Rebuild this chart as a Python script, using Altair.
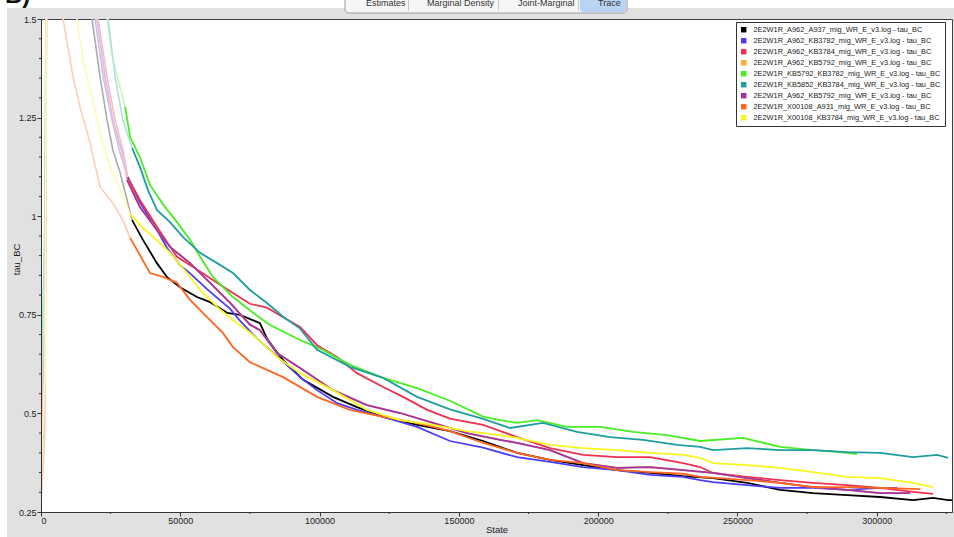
import altair as alt
import pandas as pd

# ---------------- data ----------------
NAMES = [
    "2E2W1R_A962_A937_mig_WR_E_v3.log - tau_BC",
    "2E2W1R_A962_KB3782_mig_WR_E_v3.log - tau_BC",
    "2E2W1R_A962_KB3784_mig_WR_E_v3.log - tau_BC",
    "2E2W1R_A962_KB5792_mig_WR_E_v3.log - tau_BC",
    "2E2W1R_KB5792_KB3782_mig_WR_E_v3.log - tau_BC",
    "2E2W1R_KB5852_KB3784_mig_WR_E_v3.log - tau_BC",
    "2E2W1R_A962_KB5792_mig_WR_E_v3.log - tau_BC\u200b",
    "2E2W1R_X00108_A931_mig_WR_E_v3.log - tau_BC",
    "2E2W1R_X00108_KB3784_mig_WR_E_v3.log - tau_BC",
]
COLORS = ["#000000", "#4d3df2", "#ef3150", "#ffa832", "#48ee24",
          "#1f9d9f", "#a232a6", "#ff6622", "#f6f620"]
# the same hues as drawn (washed out) for the burn-in part of each trace
PALE = ["#ababab", "#c4bffb", "#fabbc5", "#ffe2bb", "#c3f9b7",
        "#b5dfdf", "#e0bbe2", "#ffcdb6", "#fcfcb6"]

BLACK_S = [0, 1400, 2500, 18300, 21200, 23700, 25800, 28400, 30900, 32700,
           36600, 41600, 45200, 49900, 56000, 60700, 66800, 71400, 77500, 78600,
           81100, 83300, 86900, 94100, 104800, 113400, 122800, 135000, 146800, 158700,
           170900, 182700, 194600, 206800, 218600, 230500, 241200, 253500, 265300, 277100,
           289400, 301200, 313000, 320200, 325600, 327000]
BLACK_V = [0.35, 0.60, 2.50, 1.50, 1.353, 1.244, 1.168, 1.110, 1.041, 0.990,
           0.940, 0.881, 0.846, 0.820, 0.795, 0.782, 0.755, 0.750, 0.732, 0.729,
           0.690, 0.668, 0.635, 0.585, 0.542, 0.516, 0.491, 0.471, 0.455, 0.430,
           0.400, 0.382, 0.369, 0.356, 0.349, 0.341, 0.336, 0.324, 0.306, 0.298,
           0.293, 0.288, 0.280, 0.286, 0.280, 0.280]

BLUE_S = [0, 1400, 2500, 19400, 22300, 25500, 28400, 31200,
          35500, 41600, 45200, 49900, 53500, 59600, 67900, 71400, 77500, 82200,
          93000, 99100, 106300, 113400, 122800, 135000, 146800, 158700, 170900, 182700,
          194600, 206800, 218600, 230500, 236600, 241200, 253500, 265300, 277100, 289400,
          301200, 307300]
BLUE_V = [0.30, 0.55, 2.40, 1.50, 1.353, 1.244, 1.160, 1.099,
          1.035, 0.965, 0.920, 0.876, 0.855, 0.815, 0.765, 0.735, 0.690, 0.661,
          0.592, 0.559, 0.526, 0.509, 0.491, 0.466, 0.430, 0.413, 0.389, 0.377,
          0.364, 0.356, 0.344, 0.339, 0.331, 0.326, 0.318, 0.311, 0.311, 0.306,
          0.311, 0.311]

RED_S = [0, 1400, 2500, 20500, 23700, 26600, 29400, 31200,
         35500, 41600, 48800, 54600, 63200, 68900, 75000, 81100, 86900, 93000,
         99100, 106300, 113400, 122800, 130000, 138600, 146800, 158700, 170900, 182700,
         194600, 206800, 218600, 230500, 236600, 241200, 253500, 265300, 277100, 289400,
         301200, 313000, 320200]
RED_V = [0.45, 0.80, 2.60, 1.50, 1.353, 1.244, 1.168, 1.097,
         1.041, 0.973, 0.897, 0.871, 0.831, 0.805, 0.778, 0.768, 0.744, 0.719,
         0.673, 0.643, 0.602, 0.567, 0.542, 0.509, 0.487, 0.471, 0.440, 0.412,
         0.395, 0.389, 0.389, 0.374, 0.364, 0.349, 0.339, 0.331, 0.324, 0.318,
         0.311, 0.301, 0.296]

PURPLE_S = [0, 1400, 2500, 20100, 23000, 25800, 29100, 30900,
            35500, 41600, 46300, 53500, 60700, 67900, 72500, 75000, 78600, 84700,
            93000, 104800, 117000, 128900, 140700, 152900, 164800, 170900, 182700, 194600,
            206800, 218600, 230500, 241200, 253500, 265300, 277100, 289400, 301200, 312000]
PURPLE_V = [0.42, 0.70, 2.50, 1.50, 1.353, 1.244, 1.163, 1.092,
            1.023, 0.965, 0.922, 0.881, 0.831, 0.780, 0.744, 0.725, 0.711, 0.653,
            0.615, 0.559, 0.521, 0.501, 0.476, 0.450, 0.433, 0.425, 0.407, 0.374,
            0.362, 0.364, 0.356, 0.349, 0.336, 0.324, 0.313, 0.306, 0.298, 0.298]

GREEN_S = [0, 1400, 2500, 23700, 25800, 28400, 30200,
           32000, 35500, 39100, 43800, 48800, 53500, 57100, 61700, 68900, 76100,
           82200, 93000, 101200, 110900, 122800, 135000, 146800, 158700, 164800, 170900,
           178100, 188800, 200700, 212500, 224700, 236600, 252000, 265300, 277100, 286800,
           292900]
GREEN_V = [0.50, 0.90, 2.60, 1.50, 1.396, 1.328, 1.277,
           1.200, 1.150, 1.080, 1.030, 0.985, 0.940, 0.897, 0.846, 0.795, 0.755,
           0.724, 0.686, 0.661, 0.623, 0.590, 0.564, 0.532, 0.492, 0.483, 0.476,
           0.483, 0.466, 0.466, 0.453, 0.445, 0.430, 0.438, 0.415, 0.407, 0.402,
           0.397]

TEAL_S = [0, 1400, 2500, 24100, 26600, 29400, 32700,
          35500, 38400, 41600, 46300, 51000, 57100, 63200, 68900, 75000, 81100,
          86900, 93000, 99100, 110900, 122800, 135000, 146800, 158700, 168400, 180200,
          192400, 204300, 216100, 228300, 236600, 241200, 253500, 265300, 277100, 289400,
          301200, 313000, 321700, 325600]
TEAL_V = [0.55, 1.00, 2.60, 1.50, 1.353, 1.244, 1.173,
          1.125, 1.066, 1.016, 0.985, 0.947, 0.907, 0.881, 0.856, 0.813, 0.780,
          0.745, 0.715, 0.661, 0.618, 0.590, 0.542, 0.510, 0.486, 0.463, 0.476,
          0.453, 0.440, 0.433, 0.420, 0.415, 0.407, 0.412, 0.407, 0.407, 0.402,
          0.400, 0.389, 0.395, 0.387]

ORANGERED_S = [0, 1400, 2500, 7900, 11500, 14000, 17600, 21200, 25800, 29400,
               32000, 34500, 39100, 43800, 48800, 53500, 59600, 65300, 68900, 75000,
               86900, 99100, 110900, 122800, 135000, 146800, 158700, 170900, 182700, 194600,
               206800, 218600, 230500, 236600, 253500, 265300, 277100, 289400, 301200, 315600]
ORANGERED_V = [0.27, 0.45, 2.40, 1.50, 1.353, 1.277, 1.186, 1.074, 1.033, 0.990,
               0.945, 0.914, 0.856, 0.846, 0.831, 0.788, 0.744, 0.704, 0.668, 0.630,
               0.592, 0.542, 0.509, 0.491, 0.476, 0.455, 0.425, 0.400, 0.382, 0.374,
               0.356, 0.351, 0.347, 0.339, 0.331, 0.324, 0.313, 0.313, 0.311, 0.308]

YELLOW_S = [0, 1400, 2500, 12900, 15100, 18300, 21200, 24800, 28400, 32000,
            36600, 41600, 46300, 52400, 57100, 63200, 68900, 75000, 81100, 84700,
            93000, 104800, 117000, 128900, 140700, 152900, 164800, 170900, 182700, 194600,
            206800, 218600, 230500, 236600, 241200, 253500, 265300, 277100, 289400, 301200,
            313000, 320200]
YELLOW_V = [0.33, 0.60, 2.50, 1.50, 1.396, 1.302, 1.211, 1.125, 1.066, 1.005,
            0.970, 0.940, 0.907, 0.856, 0.813, 0.770, 0.737, 0.705, 0.668, 0.643,
            0.602, 0.559, 0.509, 0.483, 0.471, 0.455, 0.445, 0.438, 0.420, 0.412,
            0.407, 0.400, 0.395, 0.387, 0.374, 0.369, 0.362, 0.351, 0.339, 0.336,
            0.324, 0.313]

# the 4th and 7th entries are the same log file, so they carry the same trace
SERIES_STATES = [BLACK_S, BLUE_S, RED_S, PURPLE_S, GREEN_S, TEAL_S, PURPLE_S, ORANGERED_S, YELLOW_S]
SERIES_VALUES = [BLACK_V, BLUE_V, RED_V, PURPLE_V, GREEN_V, TEAL_V, PURPLE_V, ORANGERED_V, YELLOW_V]
BURNIN_END = [32700, 31200, 31200, 30900, 30200, 32700, 30900, 32000, 32000]

X_TICKS = [0, 50000, 100000, 150000, 200000, 250000, 300000]
X_MINOR = [25000, 75000, 125000, 175000, 225000, 275000, 325000]
Y_TICKS = [0.25, 0.5, 0.75, 1.0, 1.25, 1.5]
Y_MINOR = [0.3, 0.35, 0.4, 0.45, 0.55, 0.6, 0.65, 0.7, 0.8, 0.85, 0.9, 0.95,
           1.05, 1.1, 1.15, 1.2, 1.3, 1.35, 1.4, 1.45]
TAB_LABELS = ["Estimates", "Marginal Density", "Joint-Marginal", "Trace"]

# ---------------- tables ----------------
burn_rows, main_rows = [], []
for i, (name, S, V, cut) in enumerate(zip(NAMES, SERIES_STATES, SERIES_VALUES, BURNIN_END)):
    assert len(S) == len(V), name
    for s, v in zip(S, V):
        row = {"series": name, "k": i, "state": s, "value": v}
        if s <= cut:
            burn_rows.append(row)
        if s >= cut:
            main_rows.append(row)
burn_df = pd.DataFrame(burn_rows)
main_df = pd.DataFrame(main_rows)
key_df = pd.DataFrame({"series": NAMES})

FONT = "Liberation Sans"
W, H = 911, 493
OX, OY = 41, 19  # plot origin within the page

xscale = alt.Scale(domain=[0, 327000], nice=False, zero=False)
yscale = alt.Scale(domain=[0.25, 1.5], nice=False, zero=False)

legend = alt.Legend(
    title=None, orient="none", legendX=695, legendY=3,
    symbolType="square", symbolSize=30, symbolStrokeWidth=0,
    labelFont=FONT, labelFontSize=7.4, labelColor="#222", labelLimit=400,
    labelOffset=6, rowPadding=2, padding=4,
    strokeColor="#333", fillColor="white",
)

xaxis = alt.Axis(values=X_TICKS, format="d", title="State", grid=False,
                 labelFont=FONT, labelFontSize=9, labelColor="#222",
                 titleFont=FONT, titleFontSize=9.5, titleFontWeight="normal", titleColor="#222",
                 tickSize=4, tickColor="#333", domainColor="#333", labelPadding=0,
                 titlePadding=-1, zindex=1)
yaxis = alt.Axis(values=Y_TICKS, labelExpr="format(datum.value, '.3~g')", title="tau_BC", grid=False,
                 labelFont=FONT, labelFontSize=9, labelColor="#222",
                 titleFont=FONT, titleFontSize=9.5, titleFontWeight="normal", titleColor="#222",
                 tickSize=4, tickColor="#333", domainColor="#333", labelPadding=1,
                 titleX=-25, titleY=240, titleBaseline="middle", zindex=1)

burn = alt.Chart(burn_df).mark_line(clip=True, strokeWidth=1.6).encode(
    x=alt.X("state:Q", scale=xscale, axis=xaxis),
    y=alt.Y("value:Q", scale=yscale, axis=yaxis),
    color=alt.Color("series:N", scale=alt.Scale(domain=NAMES, range=PALE), legend=None),
    detail="k:N",
)
main = alt.Chart(main_df).mark_line(clip=True, strokeWidth=1.8).encode(
    x=alt.X("state:Q", scale=xscale, axis=xaxis),
    y=alt.Y("value:Q", scale=yscale, axis=yaxis),
    color=alt.Color("series:N", scale=alt.Scale(domain=NAMES, range=COLORS), legend=None),
    detail="k:N",
)
# legend key: one filled square per series (the marks themselves sit outside the clip)
key = alt.Chart(key_df).mark_square(size=30, filled=True, opacity=1, clip=True).encode(
    x=alt.value(-200), y=alt.value(-200),
    color=alt.Color("series:N", scale=alt.Scale(domain=NAMES, range=COLORS), legend=legend),
)

# minor ticks
xminor = alt.Chart(pd.DataFrame({"state": X_MINOR})).mark_rule(color="#333", strokeWidth=1).encode(
    x=alt.X("state:Q", scale=xscale, axis=xaxis), y=alt.value(H), y2=alt.value(H + 2))
yminor = alt.Chart(pd.DataFrame({"value": Y_MINOR})).mark_rule(color="#333", strokeWidth=1).encode(
    y=alt.Y("value:Q", scale=yscale, axis=yaxis), x=alt.value(-2), x2=alt.value(0))

# window decoration (screenshot chrome)
deco = pd.DataFrame({"d": [0]})


def rect(x1, y1, x2, y2, **kw):
    return alt.Chart(deco).mark_rect(clip=False, **kw).encode(
        x=alt.value(x1 - OX), x2=alt.value(x2 - OX), y=alt.value(y1 - OY), y2=alt.value(y2 - OY))


def label(txt, x, y, **kw):
    return alt.Chart(deco).mark_text(clip=False, font=FONT, align="left", baseline="alphabetic", **kw).encode(
        x=alt.value(x - OX), y=alt.value(y - OY), text=alt.value(txt))


chrome = [
    rect(0, 0, 954, 8, fill="white"),
    rect(0, 0, 7, 537, fill="white"),
    rect(345, -4, 627, 13, fill="#f6f6f6", stroke="#9a9a9a", strokeWidth=1, cornerRadius=4),
    rect(580, -4, 626, 12, fill="#b9d3f5", cornerRadius=3),
    rect(408, 0, 409, 11, fill="#c8c8c8"),
    rect(498, 0, 499, 11, fill="#c8c8c8"),
    rect(578, 0, 579, 11, fill="#c8c8c8"),
    label(TAB_LABELS[0], 366, 6, fontSize=9, color="#333"),
    label(TAB_LABELS[1], 427, 6, fontSize=9, color="#333"),
    label(TAB_LABELS[2], 518, 6, fontSize=9, color="#333"),
    label(TAB_LABELS[3], 598, 6, fontSize=9, color="#333"),
    label("B)", 5, 3, fontSize=24, fontWeight="bold", color="#111"),
]

chart = alt.layer(*chrome, xminor, yminor, burn, main, key).resolve_scale(
    color="independent"
).properties(
    width=W, height=H,
    background="#e1e1e1",
    padding={"left": OX, "top": OY, "right": 954 - OX - W, "bottom": 537 - OY - H},
    autosize=alt.AutoSizeParams(type="none"),
).configure_view(fill="white", stroke="#444", strokeWidth=1)

chart.save("out.html", embed_options={"renderer": "svg", "actions": False})
